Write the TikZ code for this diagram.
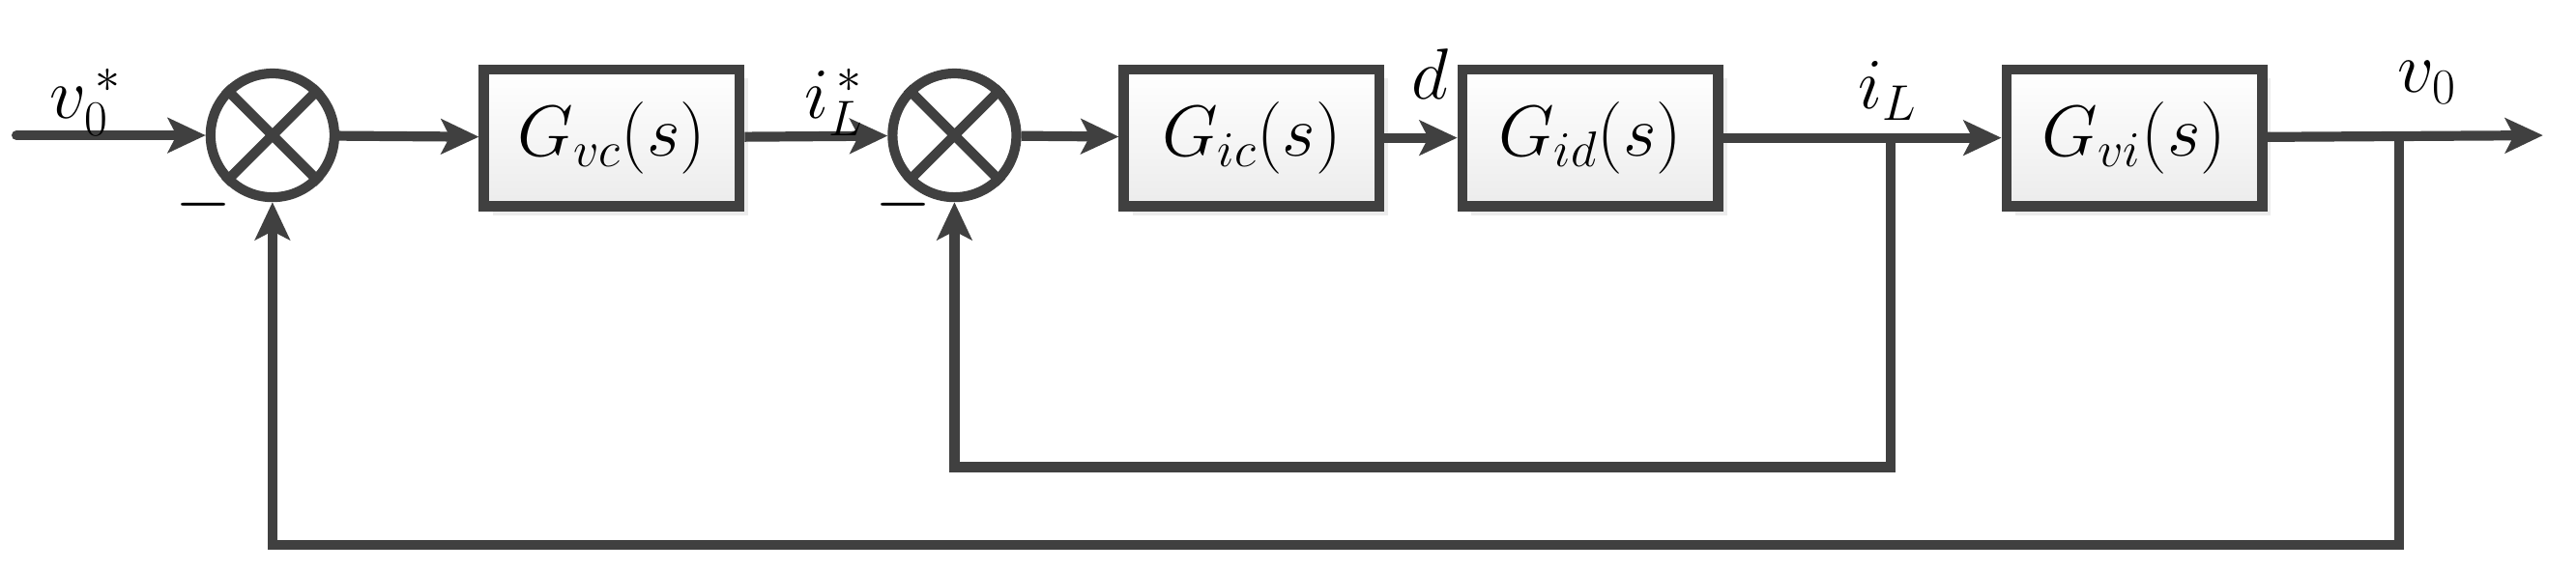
\documentclass[tikz,border=0pt]{standalone}
\usetikzlibrary{arrows.meta,shadows}
\definecolor{ln}{HTML}{404040}
\begin{document}
\begin{tikzpicture}[x=0.02cm,y=-0.02cm,
  ln/.style={draw=ln,line width=3.4pt},
  arr/.style={ln,-{Stealth[length=13pt,width=12pt,inset=3pt]}},
  blk/.style={ln,minimum width=3.1cm,minimum height=1.66cm,inner sep=0pt,
    top color=white,bottom color=gray!15,drop shadow={opacity=0.15,shadow xshift=3pt,shadow yshift=-3pt},
    font=\fontsize{24}{28}\selectfont},
  sum/.style={ln,circle,minimum size=1.5cm,inner sep=0pt,fill=white},
  lab/.style={font=\fontsize{26}{30}\selectfont}]
\useasboundingbox (0,0) rectangle (1560,345);
\coordinate (in) at (10,82);
\node[sum] (s1) at (165,82) {};
\draw[ln] (s1.north east)--(s1.south west) (s1.north west)--(s1.south east);
\node[blk] (b1) at (370.5,83.5) {$G_{vc}(s)$};
\node[sum] (s2) at (578,82) {};
\draw[ln] (s2.north east)--(s2.south west) (s2.north west)--(s2.south east);
\node[blk] (b2) at (758,83.5) {$G_{ic}(s)$};
\node[blk] (b3) at (963,83.5) {$G_{id}(s)$};
\node[blk] (b4) at (1292.5,83.5) {$G_{vi}(s)$};
\coordinate (out) at (1540,82);
\coordinate (p1) at (1145,82);
\coordinate (p1d) at (1145,283);
\coordinate (p1l) at (578,283);
\coordinate (p2) at (1453,82);
\coordinate (p2d) at (1453,330);
\coordinate (p2l) at (165,330);
\draw[arr,line cap=round] (in)--(s1);
\draw[arr] (s1)--(b1);
\draw[arr] (b1)--(s2);
\draw[arr] (s2)--(b2);
\draw[arr] (b2)--(b3);
\draw[arr] (b3)--(b4);
\draw[arr] (b4)--(out);
\draw[arr,line join=miter] (p1)--(p1d)--(p1l)--(s2);
\draw[arr,line join=miter] (p2)--(p2d)--(p2l)--(s1);
\node[lab] at (52,62) {$v_0^{\,*}$};
\node[lab] at (505,62) {$i_L^{\,*}$};
\node[lab] at (866,45) {$d$};
\node[lab] at (1143,55) {$i_L$};
\node[lab] at (1470,50) {$v_0$};
\node[lab] at (123,124) {$-$};
\node[lab] at (547,124) {$-$};
\end{tikzpicture}
\end{document}
